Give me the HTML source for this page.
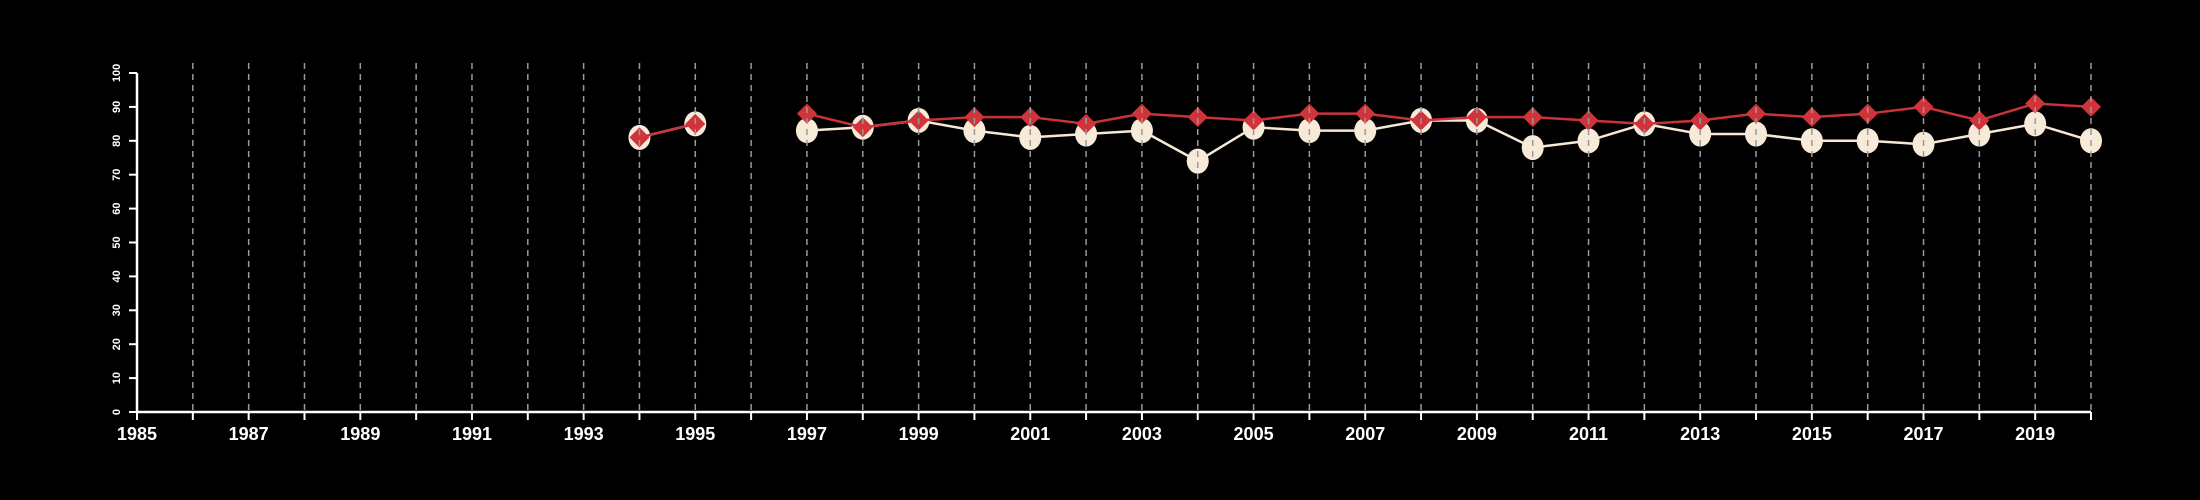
<!DOCTYPE html>
<html><head><meta charset="utf-8"><style>
html,body{margin:0;padding:0;background:#000;}
svg{display:block;}
text{font-family:"Liberation Sans",sans-serif;font-weight:bold;fill:#fff;}
</style></head><body>
<svg id="chart" width="2200" height="500" viewBox="0 0 2200 500"></svg>
<script>
const years=[1994,1995,1997,1998,1999,2000,2001,2002,2003,2004,2005,2006,2007,2008,2009,2010,2011,2012,2013,2014,2015,2016,2017,2018,2019,2020];
const whiteSeries=[81,85,83,84,86,83,81,82,83,74,84,83,83,86,86,78,80,85,82,82,80,80,79,82,85,80];
const redSeries=[81,85,88,84,86,87,87,85,88,87,86,88,88,86,87,87,86,85,86,88,87,88,90,86,91,90];
const yTicks=[0,10,20,30,40,50,60,70,80,90,100];
const xMin=1985,xMax=2020;
const svg=document.getElementById('chart');
const NS='http://www.w3.org/2000/svg';
const X=y=>137+(y-xMin)*(2091-137)/(xMax-xMin);
const Y=v=>412-v*3.39;
function mk(t,a,p){const e=document.createElementNS(NS,t);for(const k in a)e.setAttribute(k,a[k]);(p||svg).appendChild(e);return e;}
function segs(vals){const out=[];let cur=[];years.forEach((yr,i)=>{if(i>0&&yr-years[i-1]>1){out.push(cur);cur=[];}cur.push([X(yr),Y(vals[i])]);});out.push(cur);return out;}
// white line + circles
segs(whiteSeries).forEach(s=>{const l=mk('polyline',{points:s.map(p=>p.join(',')).join(' '),fill:'none',stroke:'#f5e9d6','stroke-width':2.5});
});
years.forEach((yr,i)=>{const c=mk('ellipse',{cx:X(yr),cy:Y(whiteSeries[i]),rx:11,ry:12.5,fill:'#f8ead8'});
});
segs(redSeries).forEach(s=>{const l=mk('polyline',{points:s.map(p=>p.join(',')).join(' '),fill:'none',stroke:'#c8323a','stroke-width':2.5});
});
years.forEach((yr,i)=>{const x=X(yr),y=Y(redSeries[i]);const d=mk('polygon',{points:`${x},${y-10} ${x+10},${y} ${x},${y+10} ${x-10},${y}`,fill:'#d0343a'});
});
// gridlines
for(let yr=xMin+1;yr<=xMax;yr++){const g=mk('line',{x1:X(yr),x2:X(yr),y1:63,y2:412,stroke:'#9a9a9a','stroke-width':1.5,'stroke-dasharray':'6,5'});
}
// axes
const xa=mk('line',{x1:X(xMin),x2:X(xMax),y1:412,y2:412,stroke:'#fff','stroke-width':2.5});

for(let yr=xMin;yr<=xMax;yr++){mk('line',{x1:X(yr),x2:X(yr),y1:412,y2:420,stroke:'#fff','stroke-width':2});
if((yr-xMin)%2===0){const t=mk('text',{x:X(yr),y:440,'text-anchor':'middle','font-size':18});t.textContent=yr;
}}
const ya=mk('line',{x1:137,x2:137,y1:Y(0),y2:Y(100),stroke:'#fff','stroke-width':2.5});

yTicks.forEach(v=>{mk('line',{x1:129,x2:137,y1:Y(v),y2:Y(v),stroke:'#fff','stroke-width':2});
const t=mk('text',{x:0,y:0,'text-anchor':'middle','font-size':11,transform:`translate(120,${Y(v)}) rotate(-90)`});t.textContent=v;
});
</script>
</body></html>
